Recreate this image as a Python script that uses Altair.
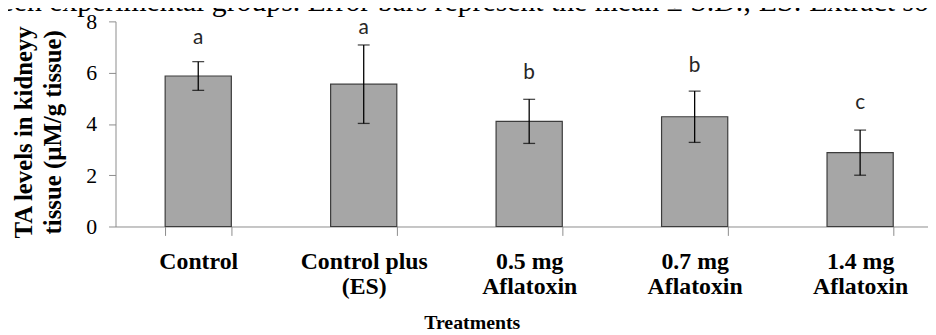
import altair as alt
import pandas as pd

categories = ["Control", "Control plus|(ES)", "0.5 mg|Aflatoxin", "0.7 mg|Aflatoxin", "1.4 mg|Aflatoxin"]
means = [5.87, 5.55, 4.10, 4.28, 2.88]
sds = [0.56, 1.53, 0.86, 1.00, 0.88]
letters = ["a", "a", "b", "b", "c"]
letter_y = [7.34, 7.74, 5.98, 6.26, 4.82]
y_ticks = [0, 2, 4, 6, 8]
y_title = ["TA levels in kidneyy", "tissue (µM/g tissue)"]
x_title = "Treatments"
caption = "een experimental groups. Error bars represent the mean ± S.D.; ES: Extract so"

df = pd.DataFrame({"cat": categories, "mean": means, "sd": sds,
                   "letter": letters, "ly": letter_y})
df["lo"] = df["mean"] - df["sd"]
df["hi"] = df["mean"] + df["sd"]

SERIF = "Liberation Serif"

x = alt.X("cat:N", sort=categories,
          scale=alt.Scale(range=[0, 835], paddingInner=0.6, paddingOuter=0.3),
          axis=alt.Axis(title=x_title, labelExpr="split(datum.label, '|')",
                        labelAngle=0, tickBand="extent", tickSize=9,
                        labelFont=SERIF, labelFontWeight="bold", labelFontSize=24,
                        labelLineHeight=26, labelPadding=14, labelBaseline="top",
                        titleFont=SERIF, titleFontWeight="bold", titleFontSize=20,
                        titlePadding=14, titleX=359.5, titleAlign="center"))

yscale = alt.Scale(domain=[0, 8], nice=False)

base = alt.Chart(df)

bars = base.mark_bar(color="#a6a6a6", stroke="#3c3c3c", strokeWidth=1.2).encode(
    x=x,
    y=alt.Y("mean:Q", scale=yscale,
            axis=alt.Axis(values=y_ticks, title=y_title, tickSize=7, labelPadding=12,
                          labelFont=SERIF, labelFontSize=22,
                          titleFont=SERIF, titleFontWeight="bold", titleFontSize=25,
                          titleLineHeight=29, titleAngle=-90, titleBaseline="middle",
                          titleAlign="center", titleX=-93, titleY=111.5)),
)

rules = base.mark_rule(color="#000000", strokeWidth=1.3).encode(
    x=alt.X("cat:N", sort=categories), y=alt.Y("lo:Q", scale=yscale), y2="hi:Q")
cap_lo = base.mark_tick(color="#000000", size=12, thickness=1.3).encode(
    x=alt.X("cat:N", sort=categories), y=alt.Y("lo:Q", scale=yscale))
cap_hi = base.mark_tick(color="#000000", size=12, thickness=1.3).encode(
    x=alt.X("cat:N", sort=categories), y=alt.Y("hi:Q", scale=yscale))
labels = base.mark_text(font="Lato", fontSize=21, color="#262626", baseline="middle").encode(
    x=alt.X("cat:N", sort=categories), y=alt.Y("ly:Q", scale=yscale), text="letter:N")

cap_df = pd.DataFrame({"t": [caption]})
cap_text = alt.Chart(cap_df).mark_text(font=SERIF, fontSize=30, align="left",
                                       baseline="alphabetic", color="#000000",
                                       clip=False).encode(
    x=alt.value(-116), y=alt.value(-10.5), text="t:N")

chart = alt.layer(bars, rules, cap_lo, cap_hi, labels, cap_text).properties(
    width=820, height=207,
    autosize=alt.AutoSizeParams(type="none"),
    padding={"left": 108.5, "top": 12, "right": 0, "bottom": 108},
).configure_view(stroke=None).configure_axis(
    grid=False, domainColor="#8c8c8c", tickColor="#8c8c8c",
    labelColor="#000000", titleColor="#000000", domainWidth=1, tickWidth=1
)

chart.save("out.html", embed_options={"renderer": "svg", "actions": False})
